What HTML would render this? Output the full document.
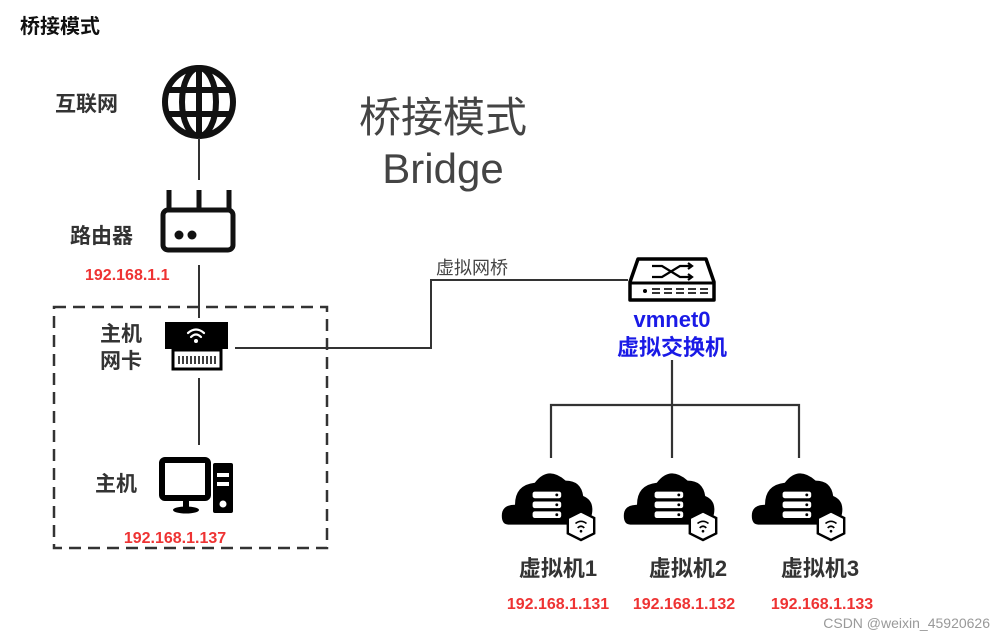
<!DOCTYPE html>
<html><head><meta charset="utf-8"><style>
body{margin:0;background:#fff;}
svg{display:block;font-family:"Liberation Sans","Noto Sans CJK SC",sans-serif;}
.b{font-weight:bold;}
</style></head><body>
<svg width="1000" height="638" viewBox="0 0 1000 638" xmlns="http://www.w3.org/2000/svg">
<text x="20" y="33" font-size="20" class="b" fill="#111">桥接模式</text>
<text x="443" y="132" font-size="42" fill="#444" text-anchor="middle">桥接模式</text>
<text x="443" y="183" font-size="42" fill="#444" text-anchor="middle">Bridge</text>

<!-- globe -->
<g fill="none" stroke="#111" stroke-width="6">
<circle cx="199" cy="102" r="34"/>
<ellipse cx="199" cy="102" rx="17" ry="34"/>
<line x1="199" y1="68" x2="199" y2="136"/>
<line x1="167" y1="90" x2="231" y2="90"/>
<line x1="165" y1="114" x2="233" y2="114"/>
</g>
<text x="55" y="111" font-size="21" class="b" fill="#333">互联网</text>
<line x1="199" y1="138" x2="199" y2="180" stroke="#333" stroke-width="2"/>

<!-- router -->
<g stroke="#111" stroke-width="5" fill="none">
<line x1="169" y1="190" x2="169" y2="210"/><line x1="199" y1="190" x2="199" y2="210"/><line x1="229" y1="190" x2="229" y2="210"/>
<rect x="163" y="210" width="70" height="40" rx="5"/>
</g>
<circle cx="179" cy="235" r="4.5" fill="#111"/><circle cx="192" cy="235" r="4.5" fill="#111"/>
<text x="70" y="243" font-size="21" class="b" fill="#333">路由器</text>
<text x="85" y="280" font-size="16" class="b" fill="#e33">192.168.1.1</text>
<line x1="199" y1="265" x2="199" y2="318" stroke="#333" stroke-width="2"/>

<!-- dashed box -->
<rect x="54" y="307" width="273" height="241" fill="none" stroke="#333" stroke-width="2.5" stroke-dasharray="12,7"/>

<!-- NIC -->
<rect x="165" y="322" width="63" height="27" fill="#000"/>
<rect x="173" y="350" width="48" height="19" fill="#fff" stroke="#000" stroke-width="3"/>
<g stroke="#000" stroke-width="1.5"><line x1="179" y1="356" x2="179" y2="364"/><line x1="183" y1="356" x2="183" y2="364"/><line x1="187" y1="356" x2="187" y2="364"/><line x1="191" y1="356" x2="191" y2="364"/><line x1="195" y1="356" x2="195" y2="364"/><line x1="199" y1="356" x2="199" y2="364"/><line x1="203" y1="356" x2="203" y2="364"/><line x1="207" y1="356" x2="207" y2="364"/><line x1="211" y1="356" x2="211" y2="364"/><line x1="215" y1="356" x2="215" y2="364"/></g>
<g fill="none" stroke="#fff" stroke-width="2.2" stroke-linecap="round">
<path d="M188 333 Q196 326 204 333"/><path d="M191 337 Q196 332 201 337"/></g>
<circle cx="196" cy="341" r="2" fill="#fff"/>
<text x="100" y="341" font-size="21" class="b" fill="#333">主机</text>
<text x="100" y="368" font-size="21" class="b" fill="#333">网卡</text>

<!-- bridge line -->
<polyline points="235,348 431,348 431,280 628,280" fill="none" stroke="#333" stroke-width="2"/>
<text x="436" y="274" font-size="18" fill="#444">虚拟网桥</text>

<!-- host -->
<line x1="199" y1="378" x2="199" y2="445" stroke="#333" stroke-width="2"/>
<rect x="162" y="460" width="46" height="38" rx="3" fill="none" stroke="#000" stroke-width="6"/>
<rect x="183" y="500" width="6" height="8" fill="#000"/>
<ellipse cx="186" cy="510" rx="13" ry="3.5" fill="#000"/>
<rect x="213" y="463" width="20" height="50" rx="2" fill="#000"/>
<rect x="217" y="473" width="12" height="4" fill="#fff"/><rect x="217" y="482" width="12" height="4" fill="#fff"/>
<circle cx="223" cy="504" r="3.5" fill="#fff"/>
<text x="95" y="491" font-size="21" class="b" fill="#333">主机</text>
<text x="175" y="543" font-size="16" class="b" fill="#e33" text-anchor="middle">192.168.1.137</text>

<!-- switch -->
<path d="M638 259 L706 259 L714 282 L714 300 L630 300 L630 282 Z" fill="#fff" stroke="#000" stroke-width="3.5" stroke-linejoin="round"/>
<line x1="630" y1="283" x2="714" y2="283" stroke="#000" stroke-width="3"/>
<g stroke="#000" stroke-width="2.2" fill="none"><path d="M652 266 L662 266 L680 277 L692 277"/><path d="M652 277 L662 277 L680 266 L692 266"/><path d="M688 263 L692 266 L688 269"/><path d="M688 274 L692 277 L688 280"/></g>
<circle cx="645" cy="291" r="2" fill="#000"/>
<g stroke="#000" stroke-width="1.6"><line x1="652" y1="289" x2="660" y2="289"/><line x1="652" y1="293" x2="660" y2="293"/><line x1="664" y1="289" x2="672" y2="289"/><line x1="664" y1="293" x2="672" y2="293"/><line x1="676" y1="289" x2="684" y2="289"/><line x1="676" y1="293" x2="684" y2="293"/><line x1="688" y1="289" x2="696" y2="289"/><line x1="688" y1="293" x2="696" y2="293"/><line x1="700" y1="289" x2="708" y2="289"/><line x1="700" y1="293" x2="708" y2="293"/></g>
<text x="672" y="327" font-size="22" class="b" fill="#1a1ae6" text-anchor="middle">vmnet0</text>
<text x="672" y="355" font-size="22" class="b" fill="#1a1ae6" text-anchor="middle">虚拟交换机</text>

<!-- tree -->
<g fill="none" stroke="#333" stroke-width="2.2">
<line x1="672" y1="360" x2="672" y2="458"/>
<polyline points="551,458 551,405 799,405 799,458"/>
</g>

<!-- VMs -->
<defs>
<g id="vm" transform="scale(1.1)">
<path d="M-36 26 Q-42 26 -42 18 Q-42 8 -30 8 Q-30 -10 -12 -12 Q0 -28 16 -14 Q30 -14 32 0 Q42 4 40 16 Q38 26 30 26 Z" fill="#000"/>
<rect x="-14" y="-4" width="26" height="6" rx="2" fill="#fff"/>
<rect x="-14" y="5" width="26" height="6" rx="2" fill="#fff"/>
<rect x="-14" y="14" width="26" height="6" rx="2" fill="#fff"/>
<circle cx="8" cy="-1" r="1.3" fill="#000"/><circle cx="8" cy="8" r="1.3" fill="#000"/><circle cx="8" cy="17" r="1.3" fill="#000"/>
<path d="M30 14 L42 20 L42 34 L30 40 L18 34 L18 20 Z" fill="#fff" stroke="#000" stroke-width="2.2"/>
<path d="M25 25 Q30 21 35 25" fill="none" stroke="#000" stroke-width="1.5"/><path d="M27 29 Q30 26 33 29" fill="none" stroke="#000" stroke-width="1.5"/><circle cx="30" cy="32" r="1.2" fill="#000"/>
</g>
</defs>
<use href="#vm" x="548" y="496"/>
<use href="#vm" x="670" y="496"/>
<use href="#vm" x="798" y="496"/>
<text x="558" y="576" font-size="22" class="b" fill="#333" text-anchor="middle">虚拟机1</text>
<text x="688" y="576" font-size="22" class="b" fill="#333" text-anchor="middle">虚拟机2</text>
<text x="820" y="576" font-size="22" class="b" fill="#333" text-anchor="middle">虚拟机3</text>
<text x="558" y="609" font-size="16" class="b" fill="#e33" text-anchor="middle">192.168.1.131</text>
<text x="684" y="609" font-size="16" class="b" fill="#e33" text-anchor="middle">192.168.1.132</text>
<text x="822" y="609" font-size="16" class="b" fill="#e33" text-anchor="middle">192.168.1.133</text>
<text x="990" y="628" font-size="14" fill="#999" text-anchor="end">CSDN @weixin_45920626</text>
</svg>
</body></html>
